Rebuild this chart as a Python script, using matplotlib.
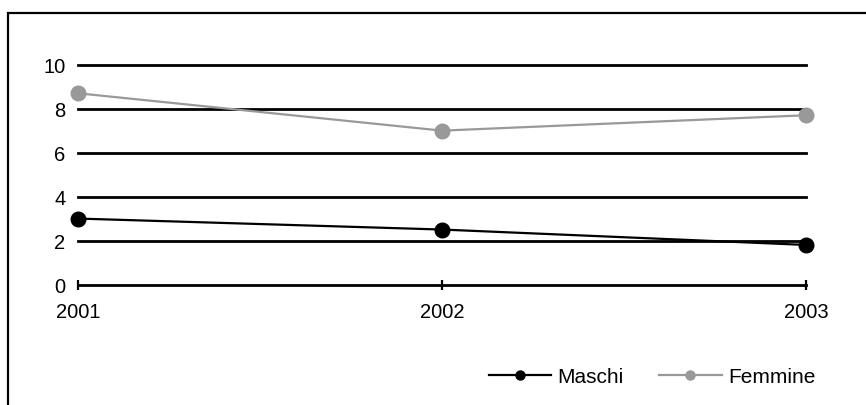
import matplotlib
matplotlib.use("Agg")
import matplotlib.pyplot as plt
from matplotlib.lines import Line2D
from matplotlib.patches import Rectangle

years = [2001, 2002, 2003]
year_labels = ["2001", "2002", "2003"]
maschi = [3.0, 2.5, 1.8]
femmine = [8.7, 7.0, 7.7]
y_ticks = [0, 2, 4, 6, 8, 10]

plt.rcParams["font.family"] = ["Liberation Sans", "DejaVu Sans"]

W, H = 866, 406
fig = plt.figure(figsize=(W / 100, H / 100), dpi=100)

# outer chart frame (only top and left edges fall inside the image)
fig.patches.append(Rectangle((8 / W, -0.1), 1.2, (H - 14) / H + 0.1,
                             transform=fig.transFigure, fill=False,
                             edgecolor="black", linewidth=1.6))

ax = fig.add_axes([78 / W, (H - 285.5) / H, (806 - 78) / W, (285.5 - 65.7) / H])
ax.set_xlim(years[0], years[-1])
ax.set_ylim(0, 10)

# horizontal gridlines at every y tick except the baseline axis
for v in y_ticks[1:]:
    ax.axhline(v, color="black", linewidth=2.0, zorder=1, clip_on=False)

ax.plot(years, maschi, color="black", linewidth=1.6, marker="o",
        markersize=10.5, clip_on=False, zorder=3)
ax.plot(years, femmine, color="#999999", linewidth=1.6, marker="o",
        markersize=10.5, clip_on=False, zorder=3)

for side in ("top", "right", "left"):
    ax.spines[side].set_visible(False)
ax.spines["bottom"].set_linewidth(2.0)

ax.set_xticks(years)
ax.set_xticklabels(year_labels)
ax.set_yticks(y_ticks)
ax.set_yticklabels([str(v) for v in y_ticks])
ax.tick_params(axis="x", direction="inout", length=7.5, width=1.6,
               pad=9, labelsize=14.5)
ax.tick_params(axis="y", length=0, pad=9, labelsize=14.5)

handles = [
    Line2D([], [], color="black", linewidth=1.6, marker="o", markersize=6.5),
    Line2D([], [], color="#999999", linewidth=1.6, marker="o", markersize=6.5),
]
fig.legend(handles, ["Maschi", "Femmine"], loc="center",
           bbox_to_anchor=(652 / W, 1 - 378 / H), ncol=2, frameon=False,
           fontsize=15, handlelength=3.0, handletextpad=0.3,
           columnspacing=1.7, borderpad=0)

fig.savefig("out.png", dpi=100)
